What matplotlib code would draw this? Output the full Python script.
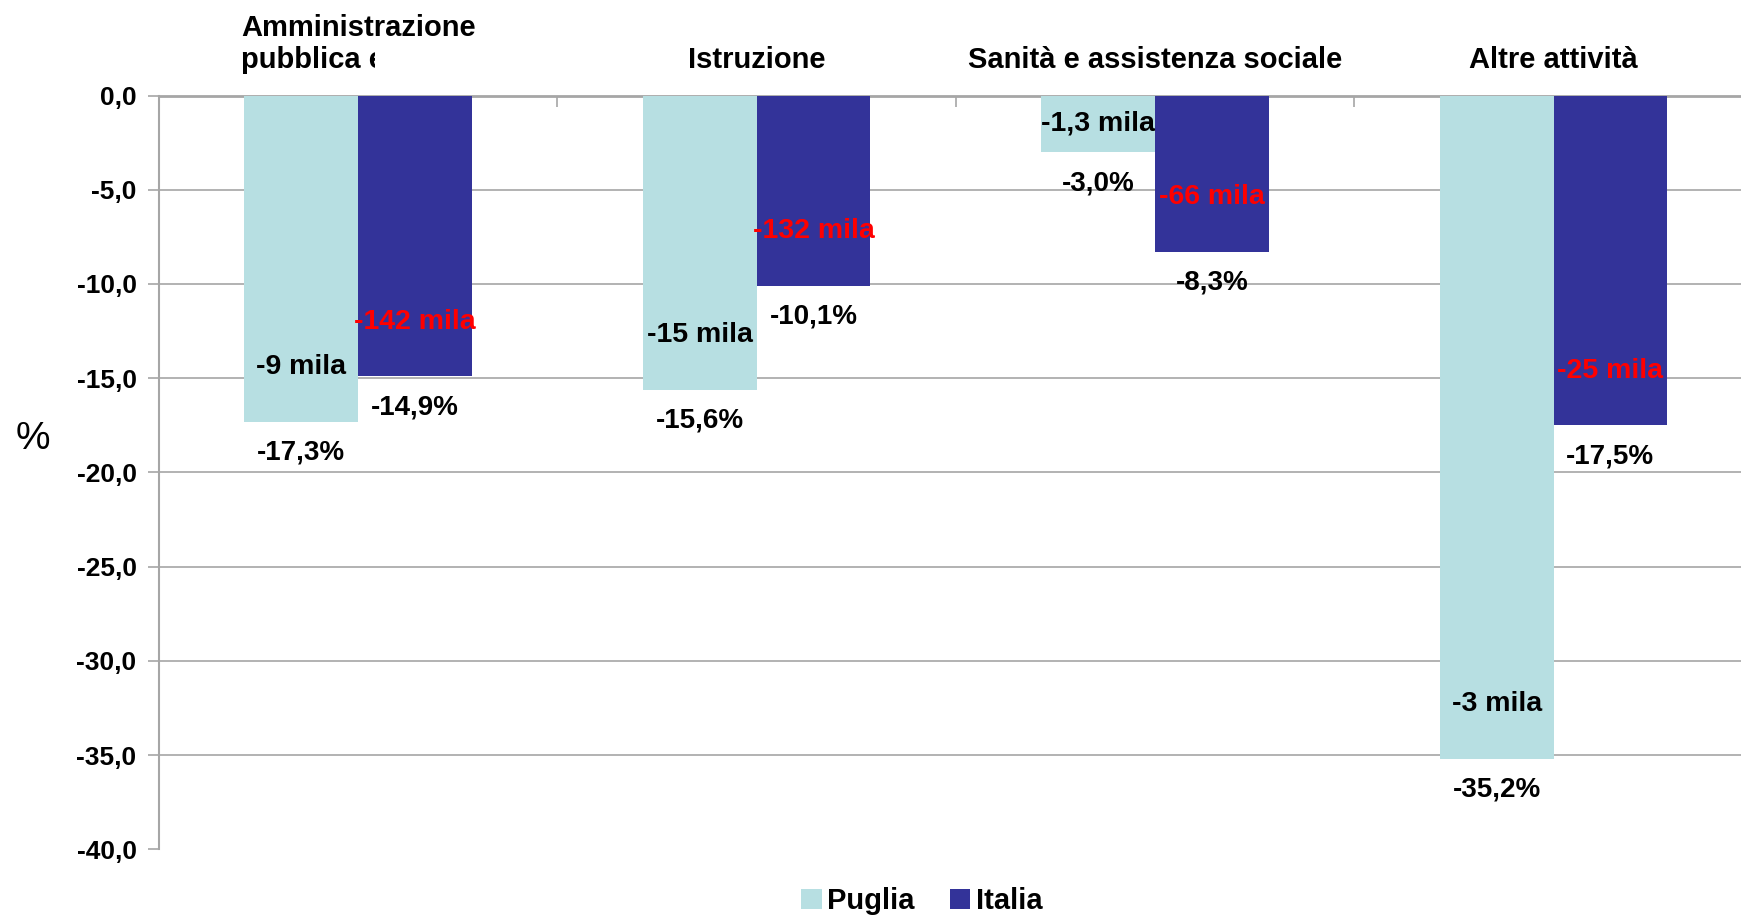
import matplotlib
matplotlib.use('Agg')
import matplotlib.pyplot as plt
from matplotlib.transforms import Bbox

plt.rcParams['font.family'] = ['Liberation Sans', 'DejaVu Sans']

categories = ['Amministrazione\npubblica e', 'Istruzione', 'Sanità e assistenza sociale', 'Altre attività']
series = ['Puglia', 'Italia']
puglia_pct = [-17.3, -15.6, -3.0, -35.2]
italia_pct = [-14.9, -10.1, -8.3, -17.5]
puglia_mila = ['-9 mila', '-15 mila', '-1,3 mila', '-3 mila']
italia_mila = ['-142 mila', '-132 mila', '-66 mila', '-25 mila']
yticks = [0, -5, -10, -15, -20, -25, -30, -35, -40]

COL_PUGLIA = '#b7dfe2'
COL_ITALIA = '#333399'
GRID = '#a6a6a6'
W = 0.2855

fig = plt.figure(figsize=(17.41, 9.18), dpi=100)
ax = fig.add_axes([158.8 / 1741, 1 - 849.4 / 918, 1594 / 1741, (849.4 - 95.5) / 918])

centers = [i + 0.5 for i in range(len(categories))]
xp = [c - W / 2 for c in centers]
xi = [c + W / 2 for c in centers]
ax.bar(xp, puglia_pct, W, color=COL_PUGLIA, label=series[0], zorder=3)
ax.bar(xi, italia_pct, W, color=COL_ITALIA, label=series[1], zorder=3)

ax.set_xlim(0, len(categories))
ax.set_ylim(-40, 0)
ax.set_yticks(yticks)
ax.set_yticklabels([f'{t:.1f}'.replace('.', ',') for t in yticks], fontsize=19, fontweight='bold')
ax.tick_params(axis='y', length=8, color=GRID, width=1.2, pad=8)

# category separators hanging from the zero line
ax.set_xticks(range(1, len(categories)))
ax.set_xticklabels([])
ax.xaxis.tick_top()
ax.tick_params(axis='x', direction='in', length=8, color=GRID, width=1.2)

for s in ['right', 'bottom']:
    ax.spines[s].set_visible(False)
ax.spines['left'].set_color(GRID)
ax.spines['left'].set_linewidth(1.5)
ax.spines['top'].set_color(GRID)
ax.spines['top'].set_linewidth(2)
for t in yticks[1:-1]:
    ax.axhline(t, color=GRID, lw=1.2, zorder=1)

ax.text(-0.079, 0.544, '%', transform=ax.transAxes, ha='center', va='center', fontsize=28)

# value labels
for x, v in zip(xp + xi, puglia_pct + italia_pct):
    ax.annotate(f'{v:.1f}%'.replace('.', ','), xy=(x, v), xytext=(0, -31),
                textcoords='offset pixels', ha='center', va='center',
                fontsize=20, fontweight='bold', zorder=5)
for x, v, m, col in zip(xp + xi, puglia_pct + italia_pct, puglia_mila + italia_mila,
                        ['black'] * 4 + ['#ff0000'] * 4):
    ax.text(x, min(v / 2, v + 2.9), m, ha='center', va='center', fontsize=20.5,
            fontweight='bold', color=col, zorder=5)

# category titles above the plot
fig.canvas.draw()
for c, name in zip(centers, categories):
    lines = name.split('\n')
    if len(lines) == 1:
        ax.annotate(name, xy=(c, 1), xycoords=('data', 'axes fraction'),
                    xytext=(0, 27), textcoords='offset pixels', ha='center',
                    va='baseline', fontsize=21, fontweight='bold')
    else:
        # long title: left aligned, second line cut like in the original
        for k, ln in enumerate(lines):
            t = ax.annotate(ln, xy=(c, 1), xycoords=('data', 'axes fraction'),
                            xytext=(-117, 27 + 33 * (len(lines) - 1 - k)),
                            textcoords='offset pixels', ha='left', va='baseline',
                            fontsize=21, fontweight='bold')
            if k > 0:
                t.set_clip_on(True)
                t.set_clip_box(Bbox([[0, 0], [375, 918]]))

fig.legend(loc='center', bbox_to_anchor=(922 / 1741, 1 - 901 / 918), ncol=2,
           frameon=False, prop={'weight': 'bold', 'size': 21},
           handlelength=0.7, handleheight=0.7, handletextpad=0.2, columnspacing=1.2)

fig.savefig('out.png', dpi=100)
